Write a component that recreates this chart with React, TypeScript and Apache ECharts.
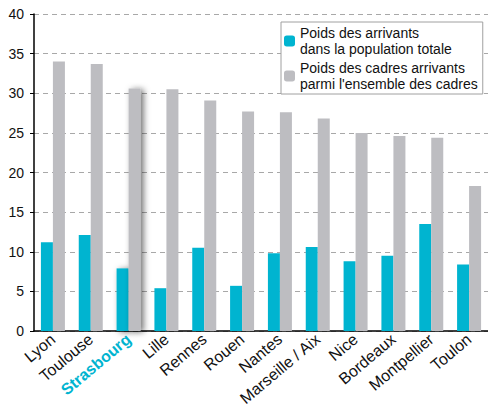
import React, { useEffect, useRef } from "react";
import * as echarts from "echarts";

const categories = ["Lyon", "Toulouse", "Strasbourg", "Lille", "Rennes", "Rouen", "Nantes", "Marseille / Aix", "Nice", "Bordeaux", "Montpellier", "Toulon"];
const arrivantsTotal = [11.2, 12.1, 7.9, 5.4, 10.5, 5.7, 9.8, 10.6, 8.8, 9.5, 13.5, 8.4];
const cadresArrivants = [34.0, 33.7, 30.6, 30.5, 29.1, 27.7, 27.6, 26.8, 25.0, 24.6, 24.4, 18.3];
const highlight = "Strasbourg";
const seriesNames = ["Poids des arrivants\ndans la population totale", "Poids des cadres arrivants\nparmi l'ensemble des cadres"];

const CYAN = "#00b4d0";
const GRAY = "#bdbdc1";
const FONT = "'Liberation Sans', Arial, sans-serif";

export default function App() {
  const ref = useRef<HTMLDivElement>(null);
  useEffect(() => {
    const chart = echarts.init(ref.current!, null, { renderer: "svg" });
    const shadow = { shadowBlur: 6, shadowColor: "rgba(0,0,0,0.55)", shadowOffsetX: 3, shadowOffsetY: 1 };
    chart.setOption({
      animation: false,
      textStyle: { fontFamily: FONT },
      grid: { left: 34, right: 0, top: 14, bottom: 81 },
      legend: {
        orient: "vertical",
        left: 281,
        top: 22,
        backgroundColor: "#fff",
        borderColor: "#a0a0a0",
        borderWidth: 1,
        borderRadius: 0,
        padding: [3, 5, 2, 3],
        itemWidth: 11,
        itemHeight: 11,
        itemGap: 3,
        textStyle: { fontFamily: FONT, fontSize: 14, color: "#111", lineHeight: 16 },
        data: seriesNames,
      },
      xAxis: {
        type: "category",
        data: categories,
        axisLine: { lineStyle: { color: "#000", width: 1.5 } },
        axisTick: { lineStyle: { color: "#000" }, length: 5 },
        axisLabel: {
          rotate: 40,
          interval: 0,
          margin: 6,
          fontSize: 16,
          color: "#111",
          fontFamily: FONT,
          formatter: (v: string) => (v === highlight ? `{h|${v}}` : v),
          rich: { h: { color: CYAN, fontWeight: "bold", fontSize: 16, fontFamily: FONT } },
        },
      },
      yAxis: {
        type: "value",
        min: 0,
        max: 40,
        interval: 5,
        axisLine: { show: true, lineStyle: { color: "#000", width: 1.5 } },
        axisTick: { show: true, length: 4, lineStyle: { color: "#000" } },
        axisLabel: { fontSize: 14, color: "#111", fontFamily: FONT, margin: 10 },
        splitLine: { lineStyle: { color: "#a8a8a8", type: [5, 4] } },
      },
      series: [
        {
          name: seriesNames[0],
          type: "bar",
          barWidth: 12,
          barGap: "0%",
          itemStyle: { color: CYAN },
          data: arrivantsTotal.map((v, i) =>
            categories[i] === highlight ? { value: v, itemStyle: { color: CYAN, ...shadow } } : v
          ),
        },
        {
          name: seriesNames[1],
          type: "bar",
          barWidth: 12,
          barGap: "0%",
          itemStyle: { color: GRAY },
          data: cadresArrivants.map((v, i) =>
            categories[i] === highlight ? { value: v, itemStyle: { color: GRAY, ...shadow } } : v
          ),
        },
      ],
    });
    return () => chart.dispose();
  }, []);
  return <div ref={ref} style={{ width: 488, height: 412, position: "fixed", left: 0, top: 0, background: "#fff" }} />;
}
